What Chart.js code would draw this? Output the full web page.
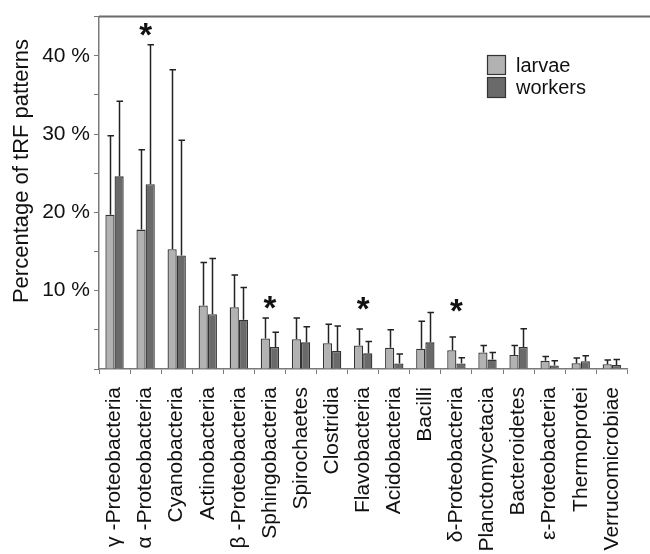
<!DOCTYPE html>
<html>
<head>
<meta charset="utf-8">
<script src="https://cdn.jsdelivr.net/npm/chart.js@4/dist/chart.umd.min.js"></script>
<style>
  html, body { margin: 0; padding: 0; background: #ffffff; }
  #wrap { width: 650px; height: 554px; }
</style>
</head>
<body>
<div id="wrap"><canvas id="c" width="650" height="554"></canvas></div>
<script>
// ---- data ----
const categories = [
  "γ -Proteobacteria", "α -Proteobacteria", "Cyanobacteria", "Actinobacteria",
  "β -Proteobacteria", "Sphingobacteria", "Spirochaetes", "Clostridia",
  "Flavobacteria", "Acidobacteria", "Bacilli", "δ-Proteobacteria",
  "Planctomycetacia", "Bacteroidetes", "ε-Proteobacteria", "Thermoprotei",
  "Verrucomicrobiae"
];
const larvae = [19.7, 17.8, 15.3, 8.1, 7.9, 3.9, 3.8, 3.3, 3.0, 2.7, 2.6, 2.4, 2.1, 1.8, 1.05, 0.75, 0.6];
const workers = [24.6, 23.6, 14.5, 7.0, 6.3, 2.8, 3.4, 2.3, 2.0, 0.7, 3.4, 0.7, 1.2, 2.8, 0.45, 1.0, 0.5];
// upper end of each error bar (mean + SD)
const larvaeUpper = [29.8, 28.0, 38.2, 13.6, 12.0, 6.5, 6.5, 5.7, 5.1, 5.0, 6.1, 4.1, 3.0, 3.0, 1.6, 1.4, 1.15];
const workersUpper = [34.2, 41.4, 29.2, 14.1, 10.4, 4.7, 5.4, 5.5, 3.5, 1.9, 7.2, 1.45, 2.1, 5.15, 1.05, 1.7, 1.2];
// significance asterisks: level (in % units) where each mark sits, null = none
const significanceAt = [null, 42.9, null, null, null, 8.1, null, null, 7.9, null, null, 7.6, null, null, null, null, null];
const seriesNames = ["larvae", "workers"];
const yTickValues = [10, 20, 30, 40];
const yTitle = "Percentage of tRF patterns";

const FONT = '"Liberation Sans", Arial, Helvetica, sans-serif';
const LIGHT = '#b2b2b2';
const DARK = '#6a6a6a';
const EDGE = '#333333';
const AXIS = '#7a7a7a';

const errorBars = {
  id: 'errorBars',
  afterDatasetsDraw(chart) {
    const ctx = chart.ctx;
    const ys = chart.scales.y;
    const uppers = [larvaeUpper, workersUpper];
    ctx.save();
    ctx.strokeStyle = '#222222';
    ctx.lineWidth = 1.5;
    chart.data.datasets.forEach((ds, di) => {
      const meta = chart.getDatasetMeta(di);
      meta.data.forEach((el, j) => {
        const x = Math.round(el.x) + 0.5;
        const yTop = el.y;
        const yErr = ys.getPixelForValue(uppers[di][j]);
        ctx.beginPath();
        ctx.moveTo(x, yTop);
        ctx.lineTo(x, yErr);
        ctx.moveTo(x - 3, yErr);
        ctx.lineTo(x + 3.5, yErr);
        ctx.stroke();
      });
    });
    // asterisks
    ctx.fillStyle = '#111111';
    ctx.font = 'bold 33px ' + FONT;
    ctx.textAlign = 'center';
    ctx.textBaseline = 'alphabetic';
    const xs = chart.scales.x;
    significanceAt.forEach((lvl, i) => {
      if (lvl == null) return;
      const x = xs.getPixelForValue(i);
      const y = ys.getPixelForValue(lvl);
      ctx.fillText('*', x, y + 13);
    });
    ctx.restore();
  }
};

const frameAndLegend = {
  id: 'frameAndLegend',
  afterDraw(chart) {
    const ctx = chart.ctx;
    const a = chart.chartArea;
    ctx.save();
    // top frame line
    ctx.strokeStyle = '#6a6a6a';
    ctx.lineWidth = 2;
    ctx.beginPath();
    ctx.moveTo(a.left, a.top);
    ctx.lineTo(chart.width, a.top);
    ctx.stroke();
    // y axis title
    ctx.save();
    ctx.translate(22, 171);
    ctx.rotate(-Math.PI / 2);
    ctx.font = '22px ' + FONT;
    ctx.fillStyle = '#111111';
    ctx.textAlign = 'center';
    ctx.textBaseline = 'middle';
    ctx.fillText(yTitle, 0, 0);
    ctx.restore();
    // legend
    const bx = 487, bw = 19;
    const rows = [{ y: 55, h: 20 }, { y: 77, h: 21 }];
    ctx.font = '20px ' + FONT;
    ctx.textBaseline = 'middle';
    ctx.textAlign = 'left';
    chart.data.datasets.forEach((ds, i) => {
      const r = rows[i];
      ctx.fillStyle = ds.backgroundColor;
      ctx.fillRect(bx, r.y, bw, r.h);
      ctx.strokeStyle = EDGE;
      ctx.lineWidth = 1.2;
      ctx.strokeRect(bx + 0.5, r.y + 0.5, bw - 1, r.h - 1);
      ctx.fillStyle = '#111111';
      ctx.fillText(ds.label, 516, r.y + r.h / 2 + 1);
    });
    ctx.restore();
  }
};

new Chart(document.getElementById('c'), {
  type: 'bar',
  data: {
    labels: categories,
    datasets: [
      { label: seriesNames[0], data: larvae, backgroundColor: LIGHT, borderColor: EDGE, borderWidth: 1.3 },
      { label: seriesNames[1], data: workers, backgroundColor: DARK, borderColor: EDGE, borderWidth: 1.3 }
    ]
  },
  options: {
    responsive: false,
    devicePixelRatio: 1,
    animation: false,
    layout: { padding: { top: 13, right: 0, bottom: 0, left: 0 } },
    datasets: { bar: { categoryPercentage: 0.59, barPercentage: 1.0 } },
    plugins: { legend: { display: false }, tooltip: { enabled: false } },
    scales: {
      x: {
        offset: true,
        grid: { display: true, drawOnChartArea: false, drawTicks: true, tickLength: 5, color: AXIS, lineWidth: 1, offset: true },
        border: { display: true, color: AXIS, width: 1.5 },
        ticks: {
          autoSkip: false, minRotation: 90, maxRotation: 90, padding: 13,
          color: '#111111', font: { family: FONT, size: 21 }
        },
        afterFit(s) { s.height = 185; }
      },
      y: {
        min: 0, max: 45,
        afterBuildTicks(s) {
          const t = [];
          for (let v = 0; v <= 45; v += 5) t.push({ value: v });
          s.ticks = t;
        },
        grid: { display: true, drawOnChartArea: false, drawTicks: true, tickLength: 5, color: AXIS, lineWidth: 1 },
        border: { display: true, color: AXIS, width: 1.5 },
        ticks: {
          padding: 4, color: '#111111', font: { family: FONT, size: 21 },
          callback: (v) => (yTickValues.includes(v) ? v + ' %' : '')
        },
        afterFit(s) { s.width = 99; }
      }
    }
  },
  plugins: [errorBars, frameAndLegend]
});
</script>
</body>
</html>
